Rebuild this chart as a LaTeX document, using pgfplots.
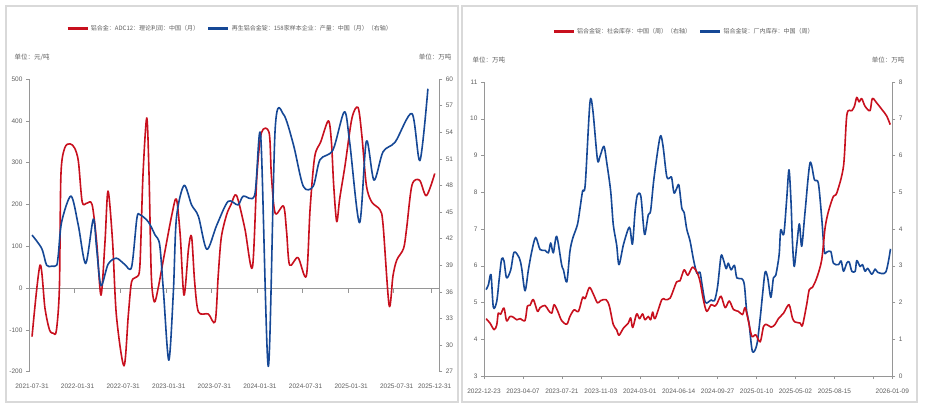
\documentclass[border=0pt]{standalone}
\usepackage{fontspec}
\setmainfont{Liberation Sans}
\newfontfamily\cjk{Noto Sans CJK SC}
\usepackage{pgfplots}
\pgfplotsset{compat=1.18}

\definecolor{cred}{RGB}{200,16,30}
\definecolor{cblue}{RGB}{22,72,150}
\definecolor{txt}{RGB}{95,95,95}
\definecolor{axc}{RGB}{150,150,150}
\definecolor{panel}{RGB}{217,217,217}

\pgfplotsset{
  base/.style={
    scale only axis, anchor=south west,
    tick align=outside, major tick length=3pt,
    tick style={axc, line width=0.5pt},
    axis line style={axc, line width=0.6pt, -},
    ticklabel style={font=\fontsize{6.5}{7.5}\selectfont, text=txt},
    /pgf/number format/assume math mode=true,
    every axis plot/.append style={line width=1.6pt, no marks, smooth, line join=round},
  },
  leg/.style={
    legend columns=2,
    legend style={draw=none, fill=none, anchor=center,
      font=\cjk\fontsize{6}{7}\selectfont, text=txt,
      /tikz/every even column/.append style={column sep=6pt}},
    legend cell align=left,
    legend image code/.code={\draw[##1, line width=2.6pt, sharp plot] (0pt,0pt) -- (20pt,0pt);},
  },
}

\begin{document}
\begin{tikzpicture}
\fill[white] (0,0) rectangle (925pt,412pt);
\path[use as bounding box] (0,0) rectangle (925pt,412pt);
\draw[panel, line width=2pt] (6pt,10.3pt) rectangle (457.5pt,406pt);
\draw[panel, line width=2pt] (461.5pt,10.3pt) rectangle (916.7pt,406pt);

\node[anchor=west, font=\cjk\fontsize{6.5}{7.5}\selectfont, text=txt] at (11pt,355pt) {单位：元/吨};
\node[anchor=east, font=\cjk\fontsize{6.5}{7.5}\selectfont, text=txt] at (455pt,355pt) {单位：万吨};
\node[anchor=west, font=\cjk\fontsize{6.5}{7.5}\selectfont, text=txt] at (469pt,352pt) {单位：万吨};
\node[anchor=east, font=\cjk\fontsize{6.5}{7.5}\selectfont, text=txt] at (908pt,352pt) {单位：万吨};

% ---- left panel: ADC12 profit (left) and secondary alloy output (right)
\begin{axis}[base, leg, at={(29pt,40.3pt)}, width=410.3pt, height=292.7pt,
  xmin=0, xmax=54, ymin=-200, ymax=500,
  axis x line*=bottom, axis y line*=left,
  x axis line style={draw=none}, xtick style={draw=none},
  xtick={0,6,12,18,24,30,36,42,48,53},
  xticklabels={2021-07-31,2022-01-31,2022-07-31,2023-01-31,2023-07-31,2024-01-31,2024-07-31,2025-01-31,2025-07-31,2025-12-31},
  xticklabel style={xshift=3pt, yshift=-6pt},
  ytick={-200,-100,...,500},
  legend style={at={(0.49,1.173)}}]
\addplot[axc, line width=0.7pt, sharp plot, forget plot] coordinates {(0,0) (54,0)};
\addplot[axc, line width=0.5pt, ycomb, forget plot] coordinates {(6,-12)(12,-12)(18,-12)(24,-12)(30,-12)(36,-12)(42,-12)(48,-12)(53,-12)};
\addplot[cred] coordinates {
(0.4,-116)(1.45,55)(2.1,-48)(2.7,-100)(3.2,-108)(3.6,-102)(4.0,0)(4.2,270)(4.7,335)(5.4,345)(6.0,335)(6.5,303)(7.0,206)(7.6,203)(8.3,200)(8.9,111)(9.47,-17)(10.0,110)(10.4,232)(11.0,111)(11.5,-65)(12.5,-186)(13.07,-65)(13.5,15)(14.2,27)(14.6,55)(15.0,270)(15.5,407)(15.8,270)(16.1,29)(16.5,-33)(17.0,0)(17.8,79)(18.8,175)(19.4,213)(19.9,127)(20.4,-17)(21.0,95)(21.4,123)(21.8,15)(22.3,-57)(23.6,-62)(24.5,-80)(24.9,29)(25.3,120)(26.0,175)(26.6,200)(27.3,222)(28.4,143)(29.4,49)(30.0,270)(30.6,372)(31.6,372)(31.9,270)(32.4,179)(33.5,196)(33.9,135)(34.3,55)(35.4,73)(36.5,29)(37.0,191)(37.6,314)(38.4,350)(39.4,400)(39.8,350)(40.1,246)(40.5,159)(40.9,215)(41.6,294)(42.5,406)(43.3,432)(43.8,366)(44.4,246)(45.1,206)(46.2,187)(46.6,151)(47.4,-42)(47.9,29)(48.4,67)(49.3,95)(49.7,143)(50.4,246)(51.4,258)(52.3,221)(53.4,274)
};
\addlegendentry{铝合金：ADC12：理论利润：中国（月）}
\addlegendimage{cblue}
\addlegendentry{再生铝合金锭：158家样本企业：产量：中国（月）（右轴）}
\end{axis}

\begin{axis}[base, at={(29pt,40.3pt)}, width=410.3pt, height=292.7pt,
  xmin=0, xmax=54, ymin=27, ymax=60,
  axis x line=none, axis y line*=right,
  ytick={27,30,...,60}]
\addplot[cblue] coordinates {
(0.4,42.4)(1.67,40.9)(2.32,39.0)(3.0,38.9)(3.64,39.0)(3.86,40.2)(4.3,43.9)(5.53,46.8)(6.49,43.5)(7.46,39.2)(8.46,44.2)(8.9,40.9)(9.47,36.7)(10.4,39.1)(11.5,39.8)(12.6,39.1)(13.5,38.8)(14.2,44.3)(14.6,44.7)(15.7,43.9)(16.6,42.4)(17.2,41.3)(17.7,36.0)(18.4,28.3)(19.0,36.0)(19.4,44.3)(20.4,48.0)(21.4,45.8)(22.3,44.5)(23.4,40.8)(24.7,43.5)(26.2,46.2)(27.5,45.8)(28.2,46.8)(29.7,46.9)(30.5,53.5)(31.5,27.6)(32.4,54.4)(33.5,56.0)(34.8,52.6)(36.1,47.9)(37.4,47.9)(38.3,50.9)(40.0,52.0)(41.5,56.3)(42.2,52.9)(43.5,43.8)(44.4,53.0)(45.4,48.6)(46.6,51.8)(48.2,52.9)(50.4,56.1)(51.45,50.8)(52.5,58.9)
};
\end{axis}

% ---- right panel: weekly inventories
\begin{axis}[base, leg, at={(484pt,36pt)}, width=408.3pt, height=294pt,
  xmin=0, xmax=157.3, ymin=3, ymax=11,
  axis x line*=bottom, axis y line*=left,
  xtick={0,15,30,45,60,75,90,105,120,135,150,157.3},
  xticklabels={2022-12-23,2023-04-07,2023-07-21,2023-11-03,2024-03-01,2024-06-14,2024-09-27,2025-01-10,2025-05-02,2025-08-15,,2026-01-09},
  xticklabel style={yshift=-6pt},
  ytick={3,4,...,11},
  legend style={at={(0.49,1.171)}}]
\addlegendimage{cred}
\addlegendentry{铝合金锭：社会库存：中国（周）（右轴）}
\addplot[cblue] coordinates {
(0.8,5.35)(1.7,5.48)(2.7,5.76)(3.6,4.87)(4.9,5.03)(5.9,5.67)(6.8,6.19)(7.7,6.13)(8.7,5.67)(10.3,5.89)(11.6,6.37)(13.6,6.21)(14.5,5.94)(15.8,5.32)(17.1,5.89)(18.4,6.39)(19.9,6.77)(21.6,6.44)(23.5,6.42)(24.8,6.35)(25.7,6.62)(26.7,6.35)(28.0,6.80)(29.9,6.03)(30.6,5.89)(31.9,5.56)(33.1,6.39)(34.2,6.75)(36.0,7.12)(37.0,7.57)(38.0,8.04)(39.0,8.21)(40.8,10.43)(41.9,10.25)(43.7,8.89)(44.7,8.98)(46.2,9.25)(47.3,8.80)(48.8,8.03)(49.8,7.12)(51.1,6.57)(52.0,6.03)(53.7,6.57)(55.6,7.01)(56.3,7.0)(57.2,6.59)(58.2,7.48)(59.1,7.93)(60.4,7.9)(61.4,7.12)(62.0,6.85)(63.3,7.39)(64.2,7.5)(65.5,8.39)(67.8,9.50)(68.9,9.29)(70.4,8.43)(71.7,8.4)(72.3,8.4)(73.2,7.98)(74.2,8.1)(75.1,8.19)(76.2,7.57)(77.1,7.45)(78.1,7.0)(79.4,6.67)(80.7,6.17)(82.0,5.80)(83.2,5.82)(84.1,5.44)(85.2,5.01)(86.4,5.01)(87.5,5.07)(88.8,5.05)(90.0,5.44)(91.3,6.26)(92.2,6.17)(93.3,5.92)(94.1,6.07)(95.2,5.89)(96.5,6.01)(97.4,5.67)(99.3,5.65)(100.3,5.48)(101.2,4.76)(102.1,4.44)(103.4,3.67)(105.1,3.85)(106.4,4.58)(107.3,5.21)(108.3,5.83)(109.3,5.67)(110.5,5.14)(111.5,5.67)(112.4,5.74)(113.7,6.30)(114.3,6.98)(115.5,6.86)(116.6,7.80)(117.5,8.61)(118.3,7.7)(118.8,6.70)(119.5,5.98)(120.5,6.57)(121.5,7.14)(122.4,6.53)(123.7,7.48)(125.6,8.80)(127.3,8.34)(128.8,8.25)(130.1,7.30)(131.1,6.39)(132.0,6.37)(133.6,6.39)(134.6,6.07)(136.5,6.03)(137.6,6.13)(138.5,5.85)(139.8,6.08)(140.7,6.1)(141.7,5.85)(143.0,5.85)(143.6,6.14)(144.9,5.98)(145.8,6.03)(146.8,5.85)(147.8,5.93)(149.4,5.77)(150.7,5.91)(151.7,5.82)(154.8,5.83)(156.6,6.46)
};
\addlegendentry{铝合金锭：厂内库存：中国（周）}
\end{axis}

\begin{axis}[base, at={(484pt,36pt)}, width=408.3pt, height=294pt,
  xmin=0, xmax=157.3, ymin=0, ymax=8,
  axis x line=none, axis y line*=right,
  ytick={0,1,...,8}]
\addplot[cred] coordinates {
(0.8,1.56)(2.3,1.44)(3.9,1.26)(4.9,1.39)(5.5,1.71)(6.4,1.68)(7.7,1.85)(8.7,1.5)(10.0,1.62)(11.3,1.6)(12.6,1.53)(13.9,1.56)(15.8,1.51)(16.7,1.90)(17.7,1.92)(19.0,2.08)(20.6,1.76)(21.6,1.86)(23.5,1.92)(24.8,1.79)(26.1,1.71)(27.0,1.94)(28.3,1.78)(29.9,1.51)(31.9,1.41)(33.1,1.62)(34.7,1.80)(36.4,1.76)(38.0,2.14)(39.0,2.11)(40.6,2.41)(42.1,2.23)(43.7,1.99)(44.9,2.05)(47.0,2.08)(48.3,1.90)(49.8,1.40)(51.1,1.26)(52.0,1.11)(53.7,1.3)(55.6,1.44)(56.5,1.58)(57.3,1.32)(58.8,1.69)(59.9,1.56)(61.1,1.69)(62.0,1.53)(63.3,1.62)(64.2,1.53)(65.0,1.74)(65.9,1.56)(68.5,2.08)(69.8,2.08)(71.7,2.12)(74.2,2.56)(75.5,2.59)(77.1,2.89)(78.5,2.74)(80.3,2.96)(82.0,2.83)(83.2,2.58)(84.5,2.08)(85.8,1.76)(87.5,1.94)(88.8,1.90)(89.7,1.96)(91.3,2.17)(92.9,1.86)(94.5,2.04)(96.1,1.81)(98.0,1.76)(99.6,1.67)(100.6,1.86)(101.9,1.48)(103.2,1.08)(104.7,1.12)(106.4,0.93)(107.7,1.35)(108.9,1.40)(110.6,1.33)(112.1,1.40)(113.4,1.56)(115.4,1.71)(117.5,1.94)(118.8,1.58)(119.8,1.47)(121.8,1.44)(122.7,1.38)(124.3,1.94)(125.3,2.35)(126.5,2.41)(128.2,2.67)(130.1,3.16)(131.4,4.03)(132.7,4.48)(134.6,4.89)(135.9,4.98)(138.5,5.71)(139.8,7.11)(141.7,7.22)(142.7,7.34)(143.6,7.58)(144.5,7.46)(145.5,7.55)(146.8,7.34)(148.7,7.22)(149.6,7.55)(151.3,7.43)(153.2,7.26)(155.1,7.08)(156.5,6.84)
};
\end{axis}
\end{tikzpicture}
\end{document}
